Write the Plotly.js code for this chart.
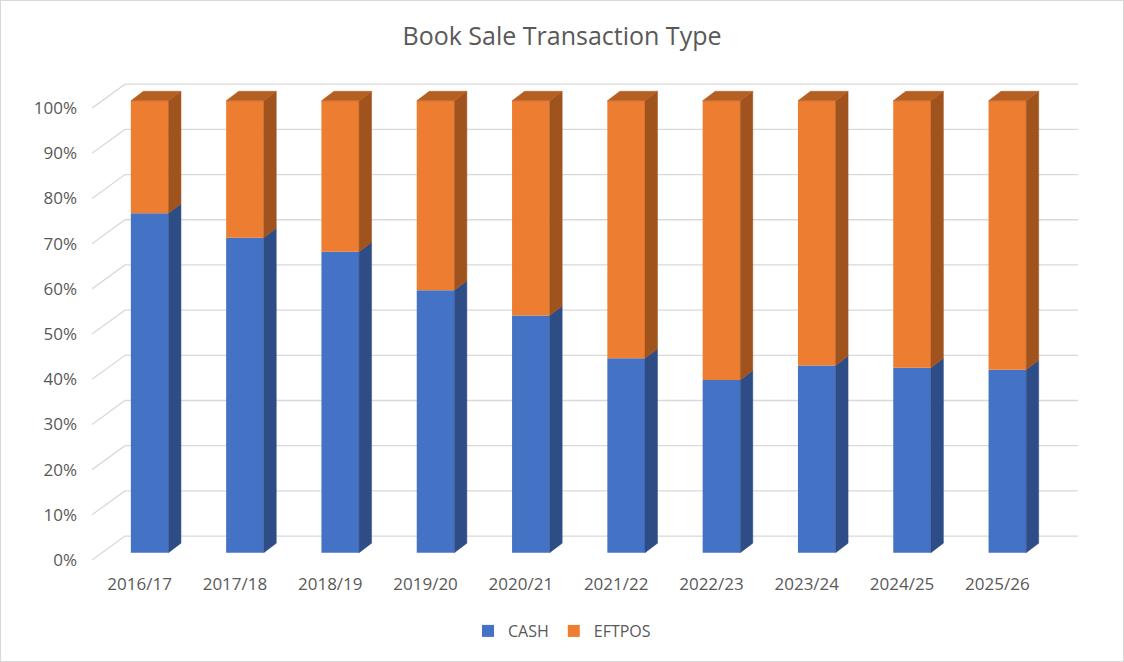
<!DOCTYPE html>
<html>
<head>
<meta charset="utf-8">
<script src="https://cdn.plot.ly/plotly-3.0.1.min.js"></script>
<style>
  body { margin: 0; background: #fff; }
  #chart { width: 1122px; height: 660px; border: 1px solid #d9d9d9; }
</style>
</head>
<body>
<div id="chart"></div>
<script>
// financial years and share of sales (%) by payment type
const years = ['2016/17', '2017/18', '2018/19', '2019/20', '2020/21',
               '2021/22', '2022/23', '2023/24', '2024/25', '2025/26'];
const cashShare   = [75.1, 69.7, 66.6, 58.1, 52.5, 43.0, 38.2, 41.4, 40.9, 40.5];
const eftposShare = [24.9, 30.3, 33.4, 41.9, 47.5, 57.0, 61.8, 58.6, 59.1, 59.5];
const yTicks = [0, 0.1, 0.2, 0.3, 0.4, 0.5, 0.6, 0.7, 0.8, 0.9, 1.0];

// fake 3d depth, in axis units
const FRONT_DX = 0.105, FRONT_DY = 0.0162;  // bar front face behind floor edge
const BAR_DX = 0.131, BAR_DY = 0.021;       // bar depth
const WALL_DX = 0.346, WALL_DY = 0.053;     // back wall
const BAR_W = 0.395;

const blue = '#4472C4', blueSide = '#2E4C86';
const orange = '#ED7D31', orangeSide = '#A0531D', orangeTop = '#B65F22';

const idx = years.map((y, i) => i);
const cash = cashShare.map(v => v / 100);
const eft = eftposShare.map(v => v / 100);

function sidePolys(lo, hi) {
    let xs = [], ys = [];
    idx.forEach(i => {
        let xr = i + FRONT_DX + BAR_W / 2;
        let y0 = FRONT_DY + lo[i], y1 = FRONT_DY + hi[i];
        xs.push(xr, xr + BAR_DX, xr + BAR_DX, xr, xr, null);
        ys.push(y0, y0 + BAR_DY, y1 + BAR_DY, y1, y0, null);
    });
    return {xs, ys};
}

let zeros = idx.map(() => 0);
let tops = idx.map(i => cash[i] + eft[i]);
let cashSide = sidePolys(zeros, cash);
let eftSide = sidePolys(cash, tops);

let topX = [], topY = [];
idx.forEach(i => {
    let xl = i + FRONT_DX - BAR_W / 2, xr = xl + BAR_W;
    let t = FRONT_DY + tops[i];
    topX.push(xl, xr, xr + BAR_DX, xl + BAR_DX, xl, null);
    topY.push(t, t, t + BAR_DY, t + BAR_DY, t, null);
});

function face(xs, ys, color) {
    return {
        x: xs, y: ys, type: 'scatter', mode: 'lines', fill: 'toself',
        fillcolor: color, line: {color: color, width: 0.5},
        showlegend: false, hoverinfo: 'skip'
    };
}

let data = [
    {
        x: idx, y: cash, base: idx.map(() => FRONT_DY), type: 'bar', name: 'CASH',
        width: BAR_W, offset: FRONT_DX - BAR_W / 2, marker: {color: blue}
    },
    {
        x: idx, y: eft, base: idx.map(i => FRONT_DY + cash[i]), type: 'bar', name: 'EFTPOS',
        width: BAR_W, offset: FRONT_DX - BAR_W / 2, marker: {color: orange}
    },
    face(cashSide.xs, cashSide.ys, blueSide),
    face(eftSide.xs, eftSide.ys, orangeSide),
    face(topX, topY, orangeTop)
];

// gridlines: floor diagonal then along the back wall
let x0 = -0.5, xEnd = years.length - 0.5 + WALL_DX;
let grid = yTicks.map(v => ({
    type: 'path', xref: 'x', yref: 'y', layer: 'below',
    path: `M ${x0},${v} L ${x0 + WALL_DX},${v + WALL_DY} L ${xEnd},${v + WALL_DY}`,
    line: {color: '#d9d9d9', width: 1.3}
}));

let txt = '#595959';
let layout = {
    width: 1122, height: 660,
    margin: {l: 91, r: 45, t: 80, b: 101},
    paper_bgcolor: '#fff', plot_bgcolor: 'rgba(0,0,0,0)',
    font: {family: 'Open Sans, sans-serif', color: txt, size: 17},
    title: {
        text: 'Book Sale Transaction Type', font: {size: 25, color: txt},
        xref: 'container', x: 0.5, xanchor: 'center',
        yref: 'container', y: 1 - 35 / 660, yanchor: 'middle'
    },
    barmode: 'overlay',
    xaxis: {
        range: [x0, xEnd], tickvals: idx, ticktext: years,
        showgrid: false, zeroline: false, showline: false,
        ticks: '', ticklabelstandoff: 12, fixedrange: true
    },
    yaxis: {
        range: [0, 1.06], tickvals: yTicks, tickformat: '.0%',
        showgrid: false, zeroline: false, showline: false,
        ticks: '', ticklabelstandoff: 14, fixedrange: true
    },
    shapes: grid,
    legend: {
        orientation: 'h', xref: 'container', yref: 'container',
        x: 0.5, xanchor: 'center', y: 1 - 630 / 660, yanchor: 'middle',
        itemwidth: 30, tracegroupgap: 0,
        font: {size: 16, color: txt}
    },
    showlegend: true
};

Plotly.newPlot('chart', data, layout, {displayModeBar: false, staticPlot: true});
</script>
</body>
</html>
